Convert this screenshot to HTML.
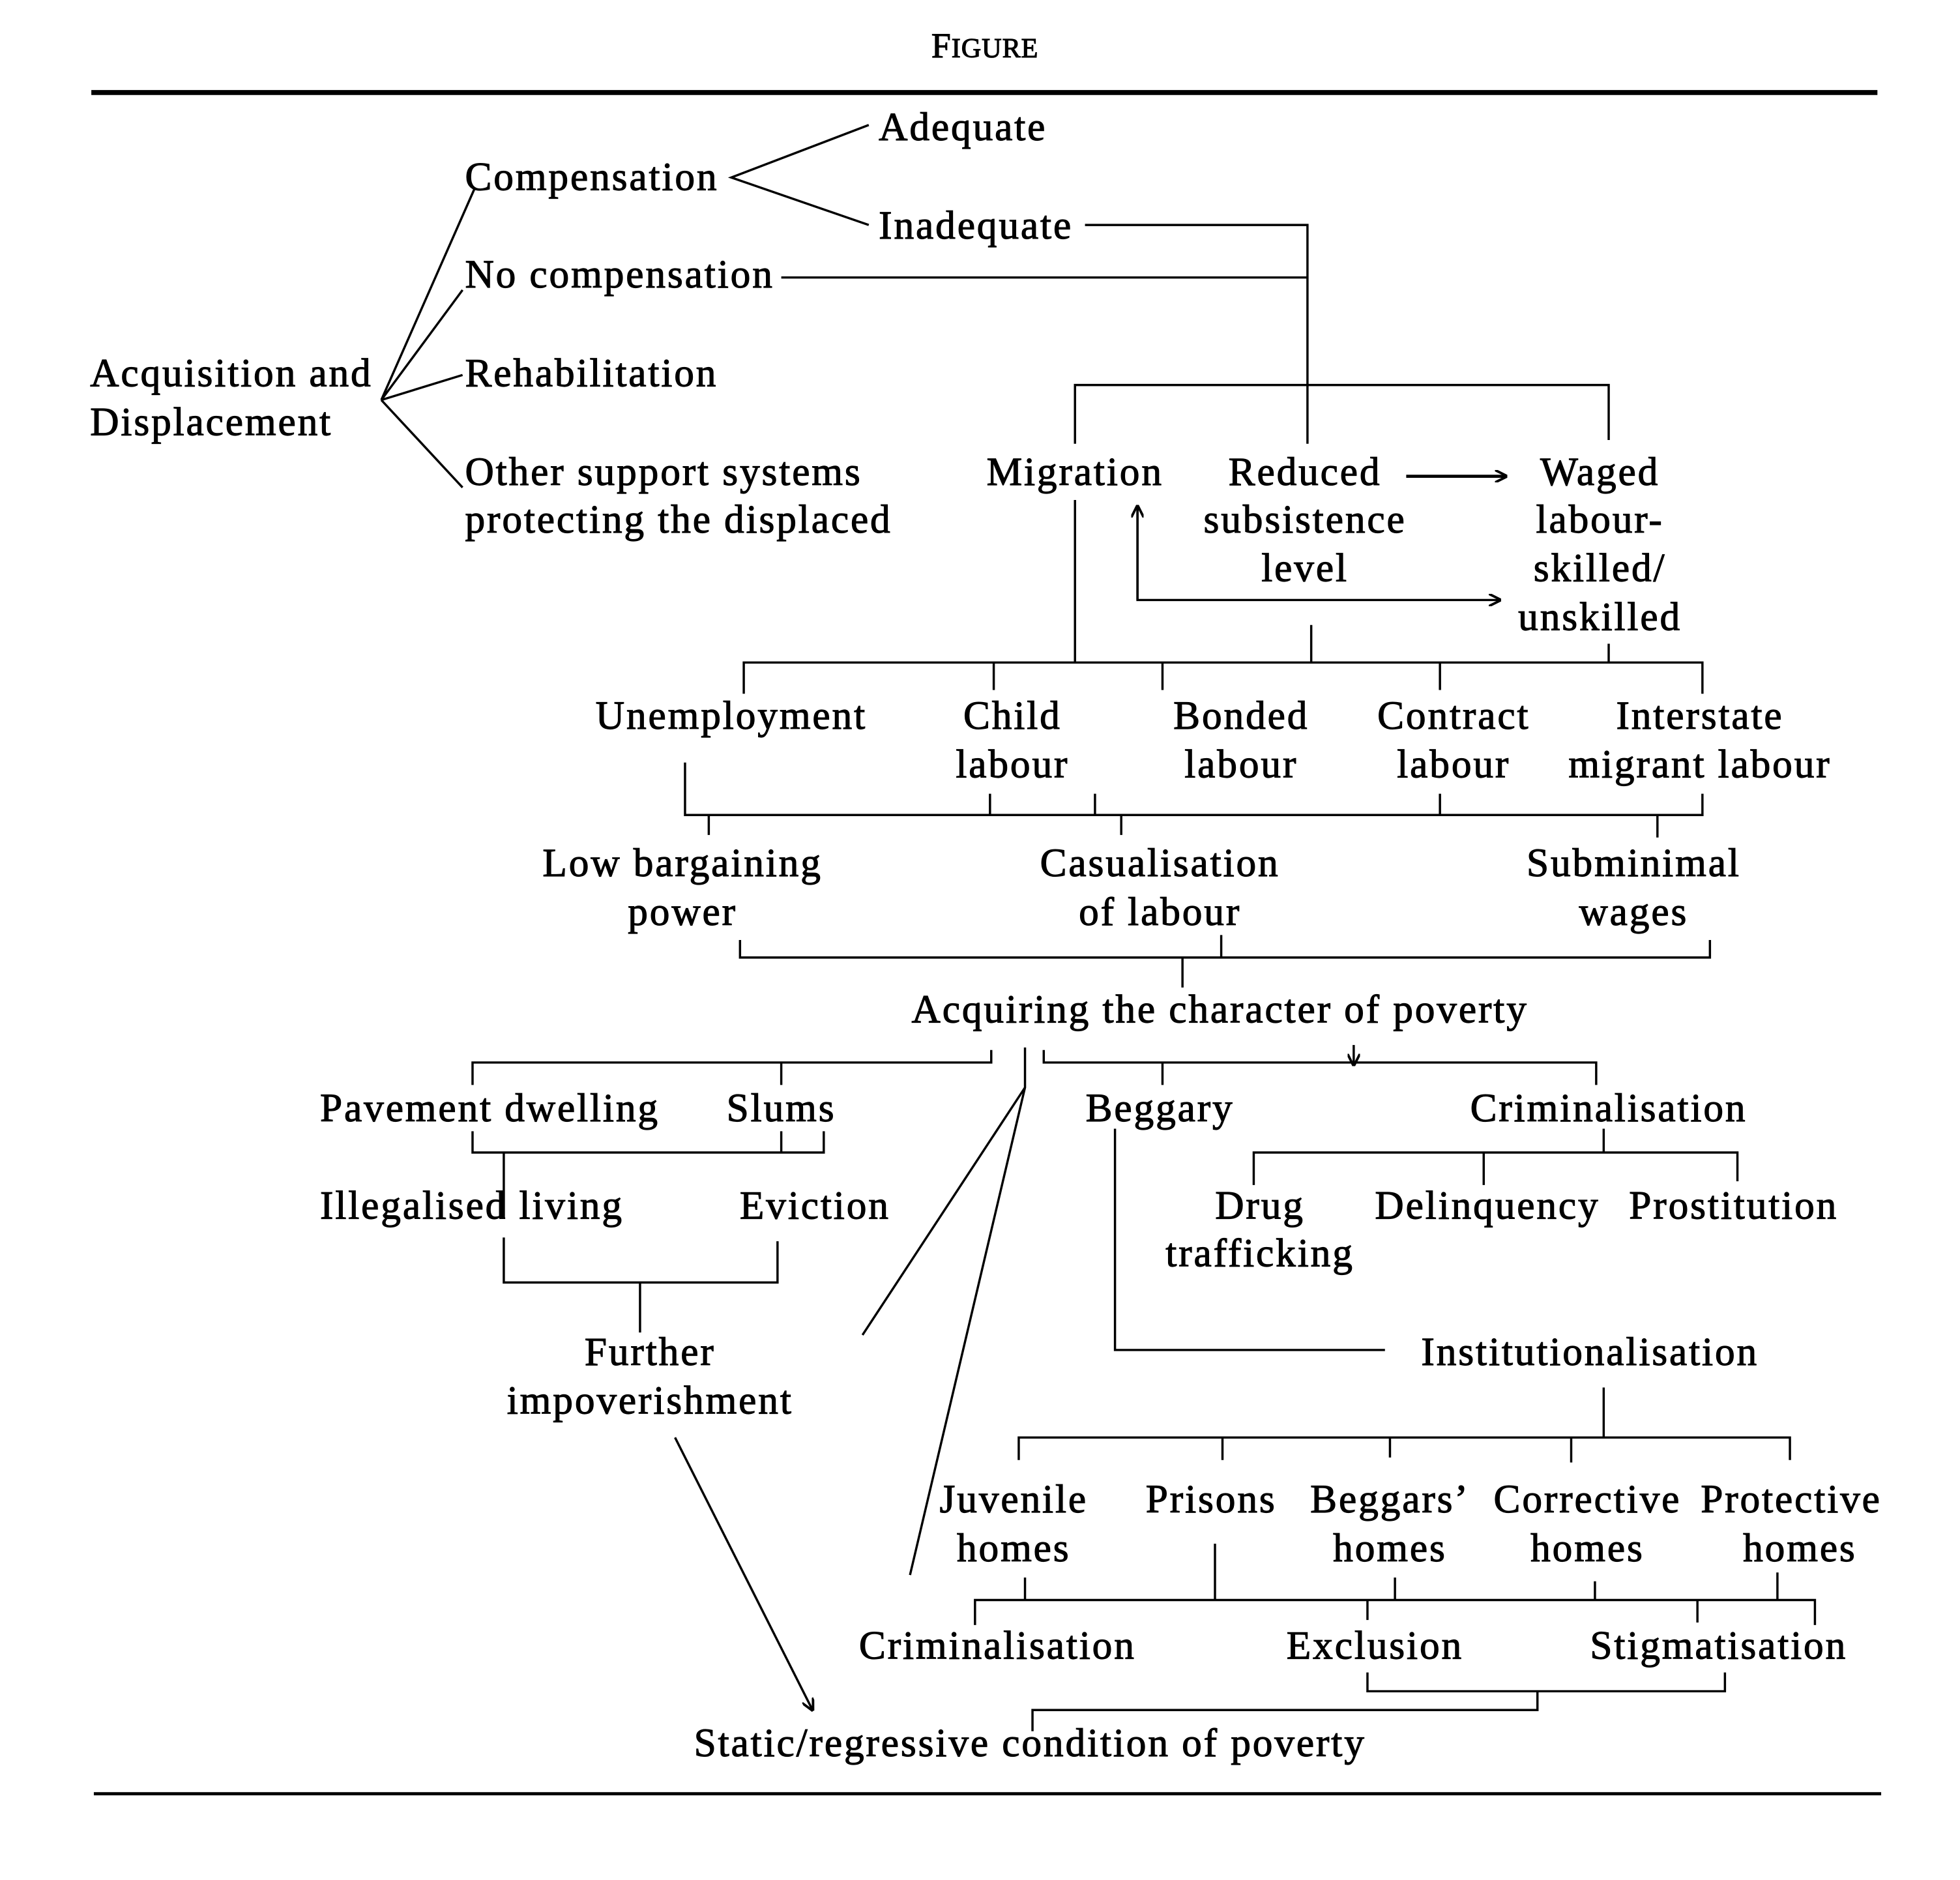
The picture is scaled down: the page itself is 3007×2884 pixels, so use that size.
<!DOCTYPE html>
<html><head><meta charset="utf-8"><style>
html,body{margin:0;padding:0;background:#fff;}
svg{display:block;}
text{font-family:"Liberation Serif",serif;font-size:32px;letter-spacing:1.5px;fill:#000;stroke:#000;stroke-width:0.6px;}
</style></head><body>
<svg width="3007" height="2884" viewBox="0 0 1568 1504" xmlns="http://www.w3.org/2000/svg">
<defs>
<marker id="ah" markerWidth="10" markerHeight="10" refX="9" refY="5" orient="auto" markerUnits="userSpaceOnUse"><path d="M0,0 L10,5 L0,10" fill="none" stroke="#000" stroke-width="2"/></marker>
</defs>
<text x="788" y="46" text-anchor="middle" style="font-size:28px;letter-spacing:0.5px">F<tspan style="font-size:22px">IGURE</tspan></text>
<line x1="73" y1="74" x2="1502" y2="74" stroke="#000" stroke-width="4"/>
<line x1="75" y1="1435" x2="1505" y2="1435" stroke="#000" stroke-width="2.5"/>

<g stroke="#000" stroke-width="1.8" fill="none">
<path d="M305,320 L380,150 M305,320 L370,232 M305,320 L370,300 M305,320 L370,390"/>
<path d="M695,100 L585,142 L695,180"/>
<path d="M868,180 H1046 V355 M625,222 H1046"/>
<path d="M860,355 V308 H1287 V352"/>
<path d="M1125,381 H1205" stroke-width="2.5" marker-end="url(#ah)"/>
<path d="M910,405 V480 H1200" marker-end="url(#ah)"/>
<path d="M910,480 V405" marker-end="url(#ah)"/>
<path d="M860,400 V530 M1049,500 V530 M1287,515 V530"/>
<path d="M595,555 V530 H1362 V555 M795,530 V552 M930,530 V552 M1152,530 V552"/>
<path d="M548,610 V652 H1362 V635 M792,635 V652 M876,635 V652 M1152,635 V652 M567,652 V668 M897,652 V668 M1326,652 V670"/>
<path d="M592,752 V766 H1368 V752 M977,748 V766 M946,766 V790"/>
<path d="M378,868 V850 H793 V840 M625,850 V868"/>
<path d="M835,840 V850 H1277 V868 M930,850 V868"/>
<path d="M1083,836 V852" marker-end="url(#ah)"/>
<path d="M820,838 V870 L690,1068 M820,870 L728,1260"/>
<path d="M378,905 V922 H659 V905 M403,922 V975 M625,922 V905"/>
<path d="M403,990 V1026 H622 V993 M512,1026 V1066"/>
<path d="M892,903 V1080 H1108"/>
<path d="M1283,903 V922 M1003,948 V922 H1390 V945 M1187,922 V948"/>
<path d="M1283,1110 V1150 M815,1168 V1150 H1432 V1168 M978,1150 V1168 M1112,1150 V1166 M1257,1150 V1170"/>
<path d="M540,1150 L650,1368" marker-end="url(#ah)"/>
<path d="M780,1300 V1280 H1452 V1300 M820,1262 V1280 M972,1235 V1280 M1116,1262 V1280 M1276,1265 V1280 M1422,1258 V1280 M1094,1280 V1296 M1358,1280 V1298"/>
<path d="M1094,1338 V1353 H1380 V1338 M1230,1353 V1368 H826 V1385"/>
</g>

<g>
<text x="703" y="112">Adequate</text>
<text x="372" y="152">Compensation</text>
<text x="703" y="191">Inadequate</text>
<text x="372" y="230">No compensation</text>
<text x="72" y="309">Acquisition and</text>
<text x="72" y="348">Displacement</text>
<text x="372" y="309">Rehabilitation</text>
<text x="372" y="388">Other support  systems</text>
<text x="372" y="426">protecting the displaced</text>
<text x="860" y="388" text-anchor="middle">Migration</text>
<text x="1044" y="388" text-anchor="middle">Reduced</text>
<text x="1044" y="426" text-anchor="middle">subsistence</text>
<text x="1044" y="465" text-anchor="middle">level</text>
<text x="1280" y="388" text-anchor="middle">Waged</text>
<text x="1280" y="426" text-anchor="middle">labour-</text>
<text x="1280" y="465" text-anchor="middle">skilled/</text>
<text x="1280" y="504" text-anchor="middle">unskilled</text>
<text x="585" y="583" text-anchor="middle">Unemployment</text>
<text x="810" y="583" text-anchor="middle">Child<tspan x="810" dy="39">labour</tspan></text>
<text x="993" y="583" text-anchor="middle">Bonded<tspan x="993" dy="39">labour</tspan></text>
<text x="1163" y="583" text-anchor="middle">Contract<tspan x="1163" dy="39">labour</tspan></text>
<text x="1360" y="583" text-anchor="middle">Interstate<tspan x="1360" dy="39">migrant labour</tspan></text>
<text x="546" y="701" text-anchor="middle">Low bargaining<tspan x="546" dy="39">power</tspan></text>
<text x="928" y="701" text-anchor="middle">Casualisation<tspan x="928" dy="39">of labour</tspan></text>
<text x="1307" y="701" text-anchor="middle">Subminimal<tspan x="1307" dy="39">wages</tspan></text>
<text x="976" y="818" text-anchor="middle">Acquiring the character of poverty</text>
<text x="256" y="897">Pavement dwelling</text>
<text x="625" y="897" text-anchor="middle">Slums</text>
<text x="928" y="897" text-anchor="middle">Beggary</text>
<text x="1287" y="897" text-anchor="middle">Criminalisation</text>
<text x="256" y="975">Illegalised living</text>
<text x="652" y="975" text-anchor="middle">Eviction</text>
<text x="1008" y="975" text-anchor="middle">Drug<tspan x="1008" dy="38">trafficking</tspan></text>
<text x="1190" y="975" text-anchor="middle">Delinquency</text>
<text x="1387" y="975" text-anchor="middle">Prostitution</text>
<text x="520" y="1092" text-anchor="middle">Further<tspan x="520" dy="39">impoverishment</tspan></text>
<text x="1272" y="1092" text-anchor="middle">Institutionalisation</text>
<text x="811" y="1210" text-anchor="middle">Juvenile<tspan x="811" dy="39">homes</tspan></text>
<text x="969" y="1210" text-anchor="middle">Prisons</text>
<text x="1112" y="1210" text-anchor="middle">Beggars’<tspan x="1112" dy="39">homes</tspan></text>
<text x="1270" y="1210" text-anchor="middle">Corrective<tspan x="1270" dy="39">homes</tspan></text>
<text x="1433" y="1210" text-anchor="middle">Protective<tspan x="1440" dy="39">homes</tspan></text>
<text x="798" y="1327" text-anchor="middle">Criminalisation</text>
<text x="1100" y="1327" text-anchor="middle">Exclusion</text>
<text x="1375" y="1327" text-anchor="middle">Stigmatisation</text>
<text x="824" y="1405" text-anchor="middle">Static/regressive condition of poverty</text>
</g>
</svg>
</body></html>
